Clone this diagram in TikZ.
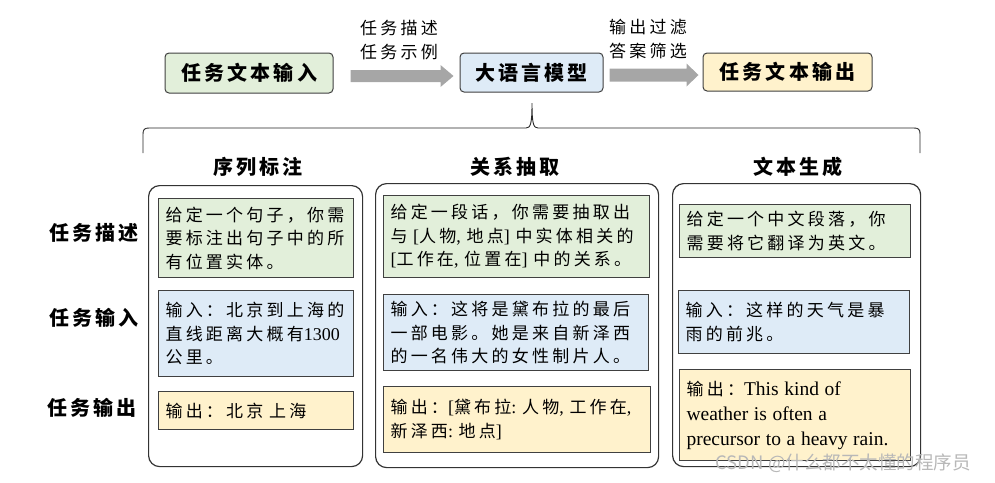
\documentclass[tikz,border=0pt]{standalone}
\usepackage{fontspec}
\setmainfont{Liberation Serif}
\newfontfamily\cjk[LetterSpace=19]{Noto Sans CJK SC}
\newfontfamily\cjkhead[LetterSpace=16]{Noto Sans CJK SC}
\newfontfamily\wmfont{Noto Sans CJK SC}
\newcommand{\lat}[1]{{\rmfamily\fontsize{18}{23.5}\selectfont #1}}
\newcommand{\eng}[1]{{\rmfamily\fontsize{19.5}{25}\selectfont #1}}
\definecolor{gfill}{HTML}{E2EFDA}
\definecolor{bfill}{HTML}{DEEBF7}
\definecolor{yfill}{HTML}{FFF2CC}
\definecolor{lineclr}{HTML}{404040}
\definecolor{arrowgray}{HTML}{A6A6A6}
\tikzset{
  topbox/.style={draw=lineclr, line width=1pt, rounded corners=4pt, inner sep=0pt,
    font=\cjkhead\fontsize{20}{24}\selectfont\bfseries},
  colbox/.style={draw=black!80, line width=1.2pt, rounded corners=11pt, inner sep=0pt, anchor=north west},
  cellbox/.style={draw=lineclr, line width=1.1pt, inner xsep=7pt, inner ysep=0pt, align=left,
    anchor=north west, font=\cjk\fontsize{17}{23.5}\selectfont},
  headtxt/.style={inner sep=0pt, font=\cjkhead\fontsize{20}{24}\selectfont\bfseries},
  armlabel/.style={inner sep=0pt, align=center, font=\cjk\fontsize{17}{24}\selectfont},
}
\begin{document}
\begin{tikzpicture}[x=1pt,y=-1pt]
\useasboundingbox (0,0) rectangle (995,482);
% top row
\node[topbox, fill=gfill, minimum width=168pt, minimum height=40pt] (in) at (249,73) {任务文本输入};
\node[topbox, fill=bfill, minimum width=143pt, minimum height=39pt] (llm) at (531.5,72.5) {大语言模型};
\node[topbox, fill=yfill, minimum width=169pt, minimum height=38pt] (out) at (787.5,72) {任务文本输出};
% block arrows
\path (in.east) ++(17,3) coordinate (a1s);
\fill[arrowgray] (a1s) ++(0,-6) -- ++(90,0) -- ++(0,-5) -- ++(13,11) -- ++(-13,11) -- ++(0,-5) -- ++(-90,0) -- cycle;
\path (llm.east) ++(6,2.5) coordinate (a2s);
\fill[arrowgray] (a2s) ++(0,-6.5) -- ++(77,0) -- ++(0,-5) -- ++(12,11.5) -- ++(-12,11.5) -- ++(0,-5) -- ++(-77,0) -- cycle;
\node[armlabel] (l1) at (399,40) {任务描述\\任务示例};
\node[armlabel] (l2) at (648,39.5) {输出过滤\\答案筛选};
% brace
\draw[black!85, line width=0.9pt] (143,153) -- (143,134) .. controls (143,129.5) and (144.5,128) .. (149,128)
  -- (526,128) .. controls (530.5,128) and (532,124) .. (532,103)
  .. controls (532,124) and (533.5,128) .. (538,128)
  -- (914,128) .. controls (918.5,128) and (920,129.5) .. (920,134) -- (920,153);
% column headers
\node[headtxt] (h1) at (258,167) {序列标注};
\node[headtxt] (h2) at (515,167) {关系抽取};
\node[headtxt] (h3) at (798,167) {文本生成};
% row labels
\node[headtxt] (r1) at (94,233) {任务描述};
\node[headtxt] (r2) at (94,318) {任务输入};
\node[headtxt] (r3) at (92,408) {任务输出};
% column boxes
\node[colbox, minimum width=214pt, minimum height=281pt] (c1) at (148,185) {};
\node[colbox, minimum width=283pt, minimum height=284pt] (c2) at (375,183) {};
\node[colbox, minimum width=248pt, minimum height=283pt] (c3) at (672,183) {};
% column 1
\node[cellbox, fill=gfill, text width=181pt, minimum height=79pt] (g1) at (158,198)
  {给定一个句子，你需\\要标注出句子中的所\\有位置实体。};
\node[cellbox, fill=bfill, text width=181pt, minimum height=86pt] (b1) at (158,290)
  {输入：北京到上海的\\直线距离大概有\lat{1300}\\公里。};
\node[cellbox, fill=yfill, text width=181pt, minimum height=38pt] (y1) at (158,391)
  {输出：北京~上海};
% column 2
\node[cellbox, fill=gfill, text width=252pt, minimum height=82pt] (g2) at (383,195)
  {给定一段话，你需要抽取出\\与~\lat{[}人物\lat{,~}地点\lat{]}~中实体相关的\\\lat{[}工作在\lat{,~}位置在\lat{]}~中的关系。};
\node[cellbox, fill=bfill, text width=251pt, minimum height=76pt] (b2) at (383,294)
  {输入：这将是黛布拉的最后\\一部电影。她是来自新泽西\\的一名伟大的女性制片人。};
\node[cellbox, fill=yfill, text width=253pt, minimum height=66pt] (y2) at (383,386)
  {输出：\lat{[}黛布拉\lat{:~}人物\lat{,~}工作在\lat{,}\\新泽西\lat{:~}地点\lat{]}};
% column 3
\node[cellbox, fill=gfill, text width=217pt, minimum height=53pt] (g3) at (679,204)
  {给定一个中文段落，你\\需要将它翻译为英文。};
\node[cellbox, fill=bfill, text width=217pt, minimum height=63pt] (b3) at (678,290)
  {输入：这样的天气是暴\\雨的前兆。};
\node[cellbox, fill=yfill, text width=217pt, minimum height=91pt, font=\cjk\fontsize{17}{25}\selectfont] (y3) at (679,369)
  {输出：\eng{This kind of}\\\eng{weather is often a}\\\eng{precursor to a heavy rain.}};
% watermark
\node[inner sep=0pt, text=black!28, font=\wmfont\fontsize{18.5}{20}\selectfont] (wm) at (843,463) {CSDN @什么都不太懂的程序员};
\end{tikzpicture}
\end{document}
